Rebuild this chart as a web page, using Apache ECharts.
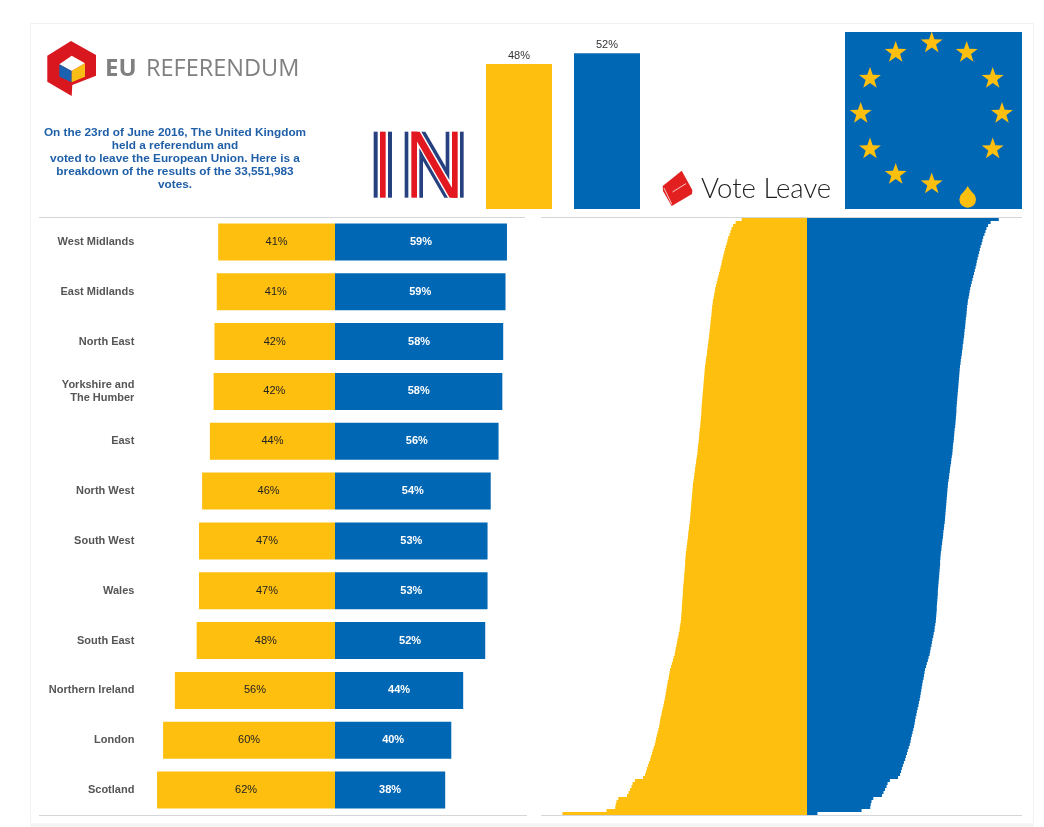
<!DOCTYPE html>
<html><head><meta charset="utf-8">
<style>html,body{margin:0;padding:0;background:#fff}#c{width:1044px;height:827px}</style>
<script src="https://cdn.jsdelivr.net/npm/echarts@6/dist/echarts.min.js"></script>
</head><body><div id="c"></div>
<script>
const regions = ["West Midlands","East Midlands","North East","Yorkshire and\nThe Humber","East","North West","South West","Wales","South East","Northern Ireland","London","Scotland"];
const regionRemain = [40.7,41.2,42.0,42.3,43.6,46.3,47.4,47.4,48.2,55.8,59.9,62.0];
const regionLeave  = [59.3,58.8,58.0,57.7,56.4,53.7,52.6,52.6,51.8,44.2,40.1,38.0];
const totalCats = ["Remain","Leave"];
const totalValues = [48.3,51.9];
const areaRemain = [25.6,28.0,29.0,29.6,30.0,30.4,30.9,31.2,31.5,31.9,32.2,32.5,32.8,33.1,33.4,33.6,33.9,34.2,34.5,34.8,
35.1,35.4,35.7,36.0,36.2,36.4,36.6,36.9,37.0,37.2,37.3,37.4,37.5,37.7,37.8,37.9,38.0,38.2,38.3,38.4,
38.6,38.7,38.9,39.0,39.2,39.3,39.5,39.7,39.8,40.0,40.1,40.2,40.3,40.4,40.5,40.6,40.7,40.8,40.9,41.0,
41.1,41.2,41.3,41.4,41.4,41.5,41.6,41.7,41.8,41.9,42.1,42.2,42.3,42.4,42.5,42.7,42.8,42.9,43.0,43.2,
43.4,43.5,43.7,43.9,44.0,44.2,44.3,44.5,44.7,44.8,44.9,45.0,45.1,45.2,45.3,45.4,45.5,45.6,45.7,45.8,
45.9,46.0,46.2,46.3,46.5,46.6,46.7,46.9,47.0,47.2,47.3,47.5,47.6,47.7,47.8,47.8,47.9,48.0,48.1,48.2,
48.3,48.4,48.5,48.6,48.7,48.7,48.8,48.9,49.0,49.1,49.1,49.2,49.3,49.4,49.5,49.7,49.9,50.0,50.3,50.5,
50.8,51.0,51.2,51.5,51.7,51.9,52.3,52.6,53.0,53.3,53.7,53.9,54.1,54.3,54.6,54.8,55.0,55.2,55.4,55.6,
55.8,56.1,56.3,56.6,56.9,57.1,57.4,57.6,57.8,58.0,58.3,58.6,58.9,59.2,59.4,59.7,60.1,60.5,60.8,61.2,
61.5,62.0,62.4,62.8,63.1,63.5,64.3,67.5,68.4,68.8,69.4,70.0,70.6,74.0,74.7,75.0,75.2,78.6,95.9];
const areaLeave = [75.2,72.0,71.0,70.4,70.0,69.6,69.1,68.8,68.5,68.1,67.8,67.5,67.2,66.9,66.6,66.4,66.1,65.8,65.5,65.2,
64.9,64.6,64.3,64.0,63.8,63.6,63.4,63.1,63.0,62.8,62.7,62.6,62.5,62.3,62.2,62.1,62.0,61.8,61.7,61.6,
61.4,61.3,61.1,61.0,60.8,60.7,60.5,60.3,60.2,60.0,59.9,59.8,59.7,59.6,59.5,59.4,59.3,59.2,59.1,59.0,
58.9,58.8,58.7,58.6,58.6,58.5,58.4,58.3,58.2,58.1,57.9,57.8,57.7,57.6,57.5,57.3,57.2,57.1,57.0,56.8,
56.6,56.5,56.3,56.1,56.0,55.8,55.7,55.5,55.3,55.2,55.1,55.0,54.9,54.8,54.7,54.6,54.5,54.4,54.3,54.2,
54.1,54.0,53.8,53.7,53.5,53.4,53.3,53.1,53.0,52.8,52.7,52.5,52.4,52.3,52.2,52.2,52.1,52.0,51.9,51.8,
51.7,51.6,51.5,51.4,51.3,51.3,51.2,51.1,51.0,50.9,50.9,50.8,50.7,50.6,50.5,50.3,50.1,50.0,49.7,49.5,
49.2,49.0,48.8,48.5,48.3,48.1,47.7,47.4,47.0,46.7,46.3,46.1,45.9,45.7,45.4,45.2,45.0,44.8,44.6,44.4,
44.2,43.9,43.7,43.4,43.1,42.9,42.6,42.4,42.2,42.0,41.7,41.4,41.1,40.8,40.6,40.3,39.9,39.5,39.2,38.8,
38.5,38.0,37.6,37.2,36.9,36.5,35.7,32.5,31.6,31.2,30.6,30.0,29.4,26.0,25.3,25.0,24.8,21.4,4.1];
const areaCats = areaRemain.map((_, i) => "Area " + (i + 1));
const introText = "On the 23rd of June 2016, The United Kingdom\nheld a referendum and\nvoted to leave the European Union. Here is a\nbreakdown of the results of the 33,551,983\nvotes.";

const YELLOW = "#FFBF0F", BLUE = "#0067B4", RED = "#E2171F", NAVY = "#27407F";
const pct = p => Math.round(Math.abs(p.value)) + "%";

const poly = (points, fill) => ({type:"polygon", shape:{points}, style:{fill}, silent:true});
const inP = (u, v) => [368 + u / 3, 125 + v / 3];
const bar = (u0, u1, v0, v1, fill) => poly([inP(u0,v0),inP(u1,v0),inP(u1,v1),inP(u0,v1)], fill);
const star = (cx, cy, R) => {
  const pts = [];
  for (let k = 0; k < 10; k++) {
    const r = k % 2 ? R * 0.4 : R, a = -Math.PI / 2 + k * Math.PI / 5;
    pts.push([cx + r * Math.cos(a), cy + r * Math.sin(a)]);
  }
  return poly(pts, YELLOW);
};
const starCentres = [[931.7,43],[895.7,52.5],[966.7,52.5],[870,78.5],[992.7,78.5],[860.7,113.5],[1002,113.5],[870,149],[992.7,149],[895.7,174.5],[931.7,184]];

const graphics = [
  {type:"rect", z:-5, shape:{x:30.5,y:23.5,width:1003,height:800.5}, style:{fill:"#fff",stroke:"#f1f1f1",lineWidth:1}, silent:true},
  {type:"rect", z:-6, shape:{x:30,y:824,width:1004,height:3}, style:{fill:"#f4f4f4"}, silent:true},
  ...[[39,525,217.5],[541,1022,217.5],[39,527,815.5],[541,1022,815.5]].map(([a,b,y]) => ({type:"line", shape:{x1:a,y1:y,x2:b,y2:y}, style:{stroke:"#d4d6da",lineWidth:1}, silent:true})),
  poly([[71,41],[96,55],[96,75.7],[72.3,85],[71.7,96],[47.3,81.7],[47.3,55.7]], "#D8171E"),
  poly([[71.7,55.7],[85,63.3],[71.7,71],[59.3,64.3]], "#fff"),
  poly([[59.3,64.3],[71.7,71],[71.7,82.3],[59.3,76.7]], "#1B63B0"),
  poly([[71.7,71],[85,63.3],[85,76.7],[71.7,82.3]], "#F8BE15"),
  {type:"text", x:105, y:57, style:{text:"EU", font:'bold 24px "Open Sans"', fill:"#808080"}, silent:true},
  {type:"text", x:146, y:57, style:{text:"REFERENDUM", font:'23.5px "Open Sans"', fill:"#808080"}, silent:true},
  {type:"text", x:175, y:126.5, style:{text:introText, font:'bold 11.8px "Liberation Sans"', fill:"#1F5FA8", align:"center", lineHeight:13}, silent:true},
  bar(17,29,20,218,NAVY), bar(36,53,20,218,RED), bar(60,72,20,218,NAVY),
  bar(110,121,20,218,NAVY), bar(130,147,20,218,RED),
  poly([inP(154,70),inP(165,89),inP(165,218),inP(154,218)], NAVY),
  bar(276,287,20,218,NAVY), bar(252,269,20,218,RED),
  poly([inP(233,20),inP(244,20),inP(244,165),inP(233,146)], NAVY),
  poly([inP(160,20),inP(172,20),inP(244,144),inP(233,146)], NAVY),
  poly([inP(154,70),inP(240,218),inP(229,218),inP(165,108)], NAVY),
  poly([inP(130,20),inP(155,20),inP(269,218),inP(245,218)], RED),
  poly([[681.7,170.7],[692.3,190],[692,194],[671.7,206],[663,191],[662.7,186]], "#E2201F"),
  {type:"line", shape:{x1:672.5,y1:192,x2:686,y2:183.6}, style:{stroke:"#f6c9c9",lineWidth:1}, silent:true},
  {type:"line", shape:{x1:664,y1:188,x2:671.7,y2:204}, style:{stroke:"#f6c9c9",lineWidth:1}, silent:true},
  {type:"text", x:701, y:175, style:{text:"Vote Leave", font:'300 27.5px "Lato"', fill:"#222"}, silent:true},
  {type:"rect", shape:{x:845,y:32,width:177,height:177}, style:{fill:BLUE}, silent:true},
  ...starCentres.map(([x,y]) => star(x,y,11.5)),
  {type:"circle", shape:{cx:967.7,cy:199.5,r:8.3}, style:{fill:YELLOW}, silent:true},
  poly([[967.7,186],[969.5,189],[975.2,196],[960.2,196],[965.9,189]], YELLOW)
];

const option = {
  animation:false,
  backgroundColor:"transparent",
  textStyle:{fontFamily:'"Liberation Sans"'},
  graphic:{elements:graphics},
  grid:[
    {left:335-2.9*64, width:2.9*128, top:217, height:598},
    {left:475, width:176, top:44, height:165},
    {left:807-2.55*100, width:2.55*180, top:218, height:597}
  ],
  xAxis:[
    {gridIndex:0, type:"value", min:-64, max:64, show:false},
    {gridIndex:0, type:"value", min:-2.9*64/2.87, max:2.9*64/2.87, show:false},
    {gridIndex:1, type:"category", data:totalCats, show:false},
    {gridIndex:2, type:"value", min:-100, max:80, show:false}
  ],
  yAxis:[
    {gridIndex:0, type:"category", inverse:true, data:regions,
     axisLine:{show:false,onZero:false}, axisTick:{show:false}, position:"left",
     axisLabel:{show:true, margin:15, align:"right", color:"#555", fontWeight:"bold", fontSize:11, lineHeight:13, fontFamily:'"Liberation Sans"', interval:0}},
    {gridIndex:1, type:"value", min:0, max:55, show:false},
    {gridIndex:2, type:"category", inverse:true, data:areaCats, show:false}
  ],
  series:[
    {name:"Remain", type:"bar", xAxisIndex:1, yAxisIndex:0, barWidth:37, barGap:"-100%",
     data:regionRemain.map(v => -v), itemStyle:{color:YELLOW},
     label:{show:true, position:"inside", formatter:pct, color:"#222", fontSize:11}},
    {name:"Leave", type:"bar", xAxisIndex:0, yAxisIndex:0, barWidth:37, barGap:"-100%",
     data:regionLeave, itemStyle:{color:BLUE},
     label:{show:true, position:"inside", formatter:pct, color:"#fff", fontSize:11, fontWeight:"bold"}},
    {name:"Total", type:"bar", xAxisIndex:2, yAxisIndex:1, barWidth:66,
     data:totalValues.map((v,i) => ({value:v, itemStyle:{color:i ? BLUE : YELLOW}})),
     label:{show:true, position:"top", distance:3, formatter:pct, color:"#333", fontSize:11}},
    {name:"Area remain", type:"bar", xAxisIndex:3, yAxisIndex:2, stack:"a", barWidth:"100%", barCategoryGap:0,
     data:areaRemain.map(v => -v), itemStyle:{color:YELLOW}},
    {name:"Area leave", type:"bar", xAxisIndex:3, yAxisIndex:2, stack:"a", barWidth:"100%", barCategoryGap:0,
     data:areaLeave, itemStyle:{color:BLUE}}
  ]
};
echarts.init(document.getElementById("c"), null, {renderer:"canvas"}).setOption(option);
</script></body></html>
